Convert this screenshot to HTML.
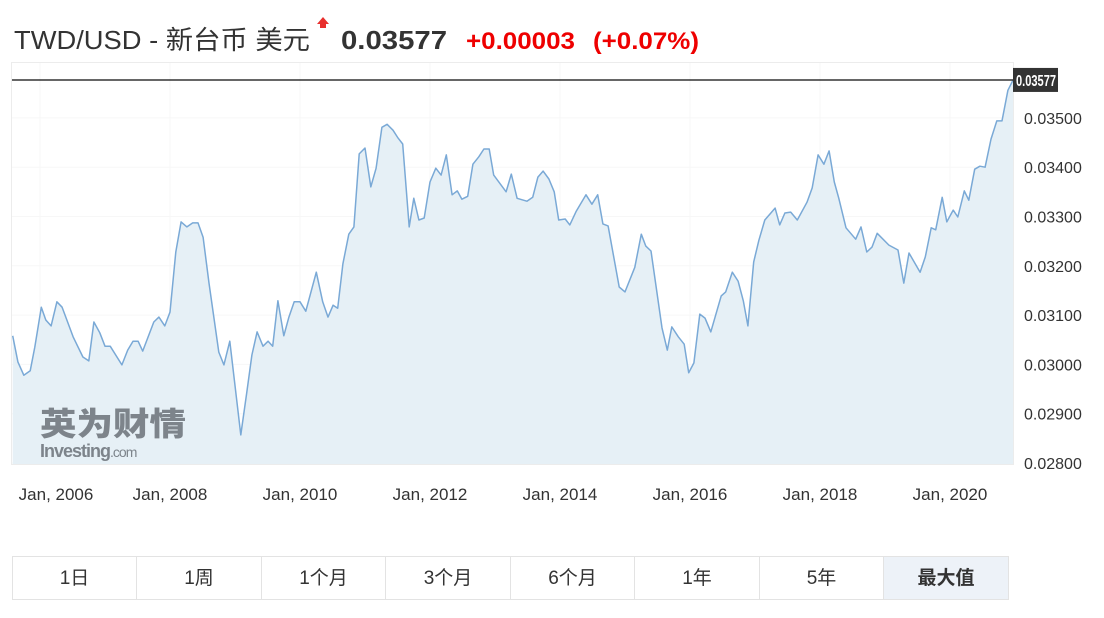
<!DOCTYPE html>
<html><head><meta charset="utf-8"><style>
body{margin:0;background:#fff;width:1104px;height:618px;overflow:hidden;font-family:"Liberation Sans","Noto Sans CJK SC",sans-serif}
.btn{position:absolute;top:556px;height:44px;border:1px solid #e3e3e3;box-sizing:border-box;font-size:19px;color:#333;text-align:center;line-height:44px;background:#fff}
</style></head><body>
<svg width="1104" height="618" style="position:absolute;left:0;top:0">
<g font-family="Liberation Sans, Noto Sans CJK SC, sans-serif">
<text x="14" y="49" font-size="26" fill="#333" textLength="296" lengthAdjust="spacingAndGlyphs">TWD/USD - 新台币 美元</text>
<path d="M323 17 L329 24 L326 24 L326 28 L320 28 L320 24 L317 24 Z" fill="#e8302e"/>
<text x="341" y="49" font-size="26" font-weight="bold" fill="#333" textLength="106" lengthAdjust="spacingAndGlyphs">0.03577</text>
<text x="466" y="49" font-size="24" font-weight="bold" fill="#e00" textLength="109" lengthAdjust="spacingAndGlyphs">+0.00003</text>
<text x="593" y="49" font-size="24" font-weight="bold" fill="#e00" textLength="106" lengthAdjust="spacingAndGlyphs">(+0.07%)</text>
</g>
<rect x="11.5" y="62.5" width="1002" height="402" fill="none" stroke="#ececec"/>
<g id="grid"></g>
<path id="area" fill="#e3eef5" fill-opacity="0.9"/>
<g font-family="Liberation Sans, sans-serif" font-size="20" font-weight="bold">
<text x="40" y="435" fill="#7d848b" textLength="146" lengthAdjust="spacingAndGlyphs" font-family="Noto Sans CJK SC, sans-serif" font-size="32" font-weight="900">英为财情</text>
<text x="40" y="457" fill="#7d848b" font-size="18" letter-spacing="-1">Investing<tspan font-weight="normal" font-size="14">.com</tspan></text>
</g>
<path id="line" fill="none" stroke="#7aa9d6" stroke-width="1.5" stroke-linejoin="round"/>
<line id="lastline" x1="12" x2="1013" stroke="#333" stroke-width="1.5"/>
<g id="yaxis" font-family="Liberation Sans, sans-serif" font-size="16" fill="#333"></g>
<g id="xaxis" font-family="Liberation Sans, sans-serif" font-size="17" fill="#333"></g>
<g id="lastlabel"></g>
</svg>
<div class="btn" style="left:12px;width:125px">1日</div>
<div class="btn" style="left:136px;width:126px">1周</div>
<div class="btn" style="left:261px;width:125px">1个月</div>
<div class="btn" style="left:385px;width:126px">3个月</div>
<div class="btn" style="left:510px;width:125px">6个月</div>
<div class="btn" style="left:634px;width:126px">1年</div>
<div class="btn" style="left:759px;width:125px">5年</div>
<div class="btn" style="left:883px;width:126px;background:#edf2f8;font-weight:bold">最大值</div>
<script>
const dates=[2005.58,2005.66,2005.75,2005.85,2005.92,2006.02,2006.09,2006.17,2006.26,2006.34,2006.51,2006.66,2006.75,2006.83,2006.92,2007.00,2007.08,2007.26,2007.35,2007.43,2007.51,2007.58,2007.75,2007.83,2007.92,2008.00,2008.09,2008.17,2008.26,2008.35,2008.43,2008.51,2008.60,2008.75,2008.83,2008.92,2009.09,2009.18,2009.26,2009.34,2009.43,2009.51,2009.58,2009.66,2009.75,2009.83,2009.91,2010.00,2010.09,2010.25,2010.35,2010.43,2010.51,2010.58,2010.66,2010.75,2010.83,2010.91,2011.00,2011.09,2011.17,2011.26,2011.34,2011.43,2011.51,2011.58,2011.68,2011.75,2011.83,2011.91,2012.00,2012.09,2012.17,2012.25,2012.34,2012.42,2012.49,2012.58,2012.66,2012.75,2012.83,2012.91,2012.98,2013.17,2013.25,2013.34,2013.49,2013.58,2013.66,2013.74,2013.83,2013.91,2013.98,2014.08,2014.15,2014.25,2014.40,2014.49,2014.58,2014.66,2014.74,2014.91,2015.00,2015.15,2015.25,2015.32,2015.40,2015.57,2015.65,2015.72,2015.82,2015.91,2015.98,2016.06,2016.15,2016.23,2016.32,2016.48,2016.55,2016.65,2016.74,2016.82,2016.89,2016.98,2017.06,2017.15,2017.31,2017.38,2017.46,2017.55,2017.65,2017.80,2017.88,2017.97,2018.06,2018.14,2018.22,2018.29,2018.40,2018.55,2018.63,2018.72,2018.80,2018.88,2019.06,2019.20,2019.29,2019.37,2019.54,2019.62,2019.71,2019.78,2019.88,2019.95,2020.05,2020.12,2020.22,2020.29,2020.38,2020.46,2020.54,2020.63,2020.72,2020.80,2020.89,2020.97];
const values=[0.03058,0.03005,0.02978,0.02987,0.03035,0.03116,0.03090,0.03078,0.03127,0.03116,0.03056,0.03015,0.03007,0.03086,0.03064,0.03037,0.03037,0.02999,0.03029,0.03047,0.03047,0.03027,0.03086,0.03096,0.03078,0.03106,0.03228,0.03289,0.03279,0.03287,0.03287,0.03258,0.03165,0.03025,0.02999,0.03047,0.02857,0.02942,0.03019,0.03066,0.03037,0.03047,0.03037,0.03129,0.03058,0.03096,0.03127,0.03127,0.03108,0.03187,0.03127,0.03096,0.03120,0.03114,0.03204,0.03264,0.03279,0.03427,0.03439,0.03360,0.03398,0.03481,0.03487,0.03475,0.03459,0.03447,0.03279,0.03337,0.03293,0.03297,0.03370,0.03398,0.03384,0.03425,0.03344,0.03352,0.03335,0.03341,0.03406,0.03421,0.03437,0.03437,0.03384,0.03350,0.03386,0.03337,0.03331,0.03339,0.03380,0.03392,0.03376,0.03350,0.03293,0.03295,0.03283,0.03311,0.03344,0.03325,0.03344,0.03285,0.03281,0.03157,0.03147,0.03197,0.03264,0.03240,0.03230,0.03074,0.03029,0.03076,0.03056,0.03041,0.02983,0.03003,0.03102,0.03094,0.03066,0.03139,0.03147,0.03187,0.03169,0.03129,0.03078,0.03208,0.03252,0.03293,0.03317,0.03283,0.03307,0.03309,0.03293,0.03329,0.03358,0.03425,0.03406,0.03433,0.03370,0.03337,0.03277,0.03254,0.03279,0.03228,0.03238,0.03266,0.03242,0.03232,0.03165,0.03226,0.03187,0.03218,0.03277,0.03273,0.03339,0.03289,0.03313,0.03299,0.03352,0.03333,0.03396,0.03402,0.03400,0.03457,0.03494,0.03494,0.03556,0.03577];
const yTicks=[0.028,0.029,0.030,0.031,0.032,0.033,0.034,0.035];
const xTickYears=[2006,2008,2010,2012,2014,2016,2018,2020];
const xTickLabels=["Jan, 2006","Jan, 2008","Jan, 2010","Jan, 2012","Jan, 2014","Jan, 2016","Jan, 2018","Jan, 2020"];
const lastValue=0.03577;
const NS="http://www.w3.org/2000/svg";
const X=d=>170+(d-2008)*65;
const Y=v=>463-(v-0.028)*49300;
let p="";dates.forEach((d,i)=>{p+=(i?"L":"M")+X(d).toFixed(1)+" "+Y(values[i]).toFixed(1)});
document.getElementById('line').setAttribute('d',p);
document.getElementById('area').setAttribute('d',p+`L${X(dates[dates.length-1]).toFixed(1)} 464L${X(dates[0]).toFixed(1)} 464Z`);
const ll=document.getElementById('lastline');ll.setAttribute('y1',Y(lastValue));ll.setAttribute('y2',Y(lastValue));
const grid=document.getElementById('grid'),ya=document.getElementById('yaxis'),xa=document.getElementById('xaxis');
yTicks.forEach(t=>{
 const g=document.createElementNS(NS,'line');
 
 
 g.setAttribute('x1',12);g.setAttribute('x2',1013);g.setAttribute('y1',Y(t));g.setAttribute('y2',Y(t));g.setAttribute('stroke','#f7f7f7');grid.appendChild(g);
 const tx=document.createElementNS(NS,'text');
 
 
 tx.setAttribute('x',1024);tx.setAttribute('y',Y(t)+6);tx.textContent=t.toFixed(5);ya.appendChild(tx);
});
xTickYears.forEach((yr,i)=>{
 const g=document.createElementNS(NS,'line');
 
 
 g.setAttribute('x1',X(yr));g.setAttribute('x2',X(yr));g.setAttribute('y1',63);g.setAttribute('y2',464);g.setAttribute('stroke','#f7f7f7');grid.appendChild(g);
 const tx=document.createElementNS(NS,'text');
 
 
 tx.setAttribute('x',i===0?56:X(yr));tx.setAttribute('y',500);tx.setAttribute('text-anchor','middle');tx.textContent=xTickLabels[i];xa.appendChild(tx);
});
const lg=document.getElementById('lastlabel');
const r=document.createElementNS(NS,'rect');


r.setAttribute('x',1013);r.setAttribute('y',Y(lastValue)-12);r.setAttribute('width',45);r.setAttribute('height',24);r.setAttribute('fill','#333');lg.appendChild(r);
const lt=document.createElementNS(NS,'text');


lt.setAttribute('x',1016);lt.setAttribute('y',Y(lastValue)+6);lt.setAttribute('fill','#fff');lt.setAttribute('font-size','16');lt.setAttribute('font-weight','bold');lt.setAttribute('font-family','Liberation Sans, sans-serif');lt.setAttribute('textLength','40');lt.setAttribute('lengthAdjust','spacingAndGlyphs');lt.textContent=lastValue.toFixed(5);lg.appendChild(lt);
</script>
</body></html>
